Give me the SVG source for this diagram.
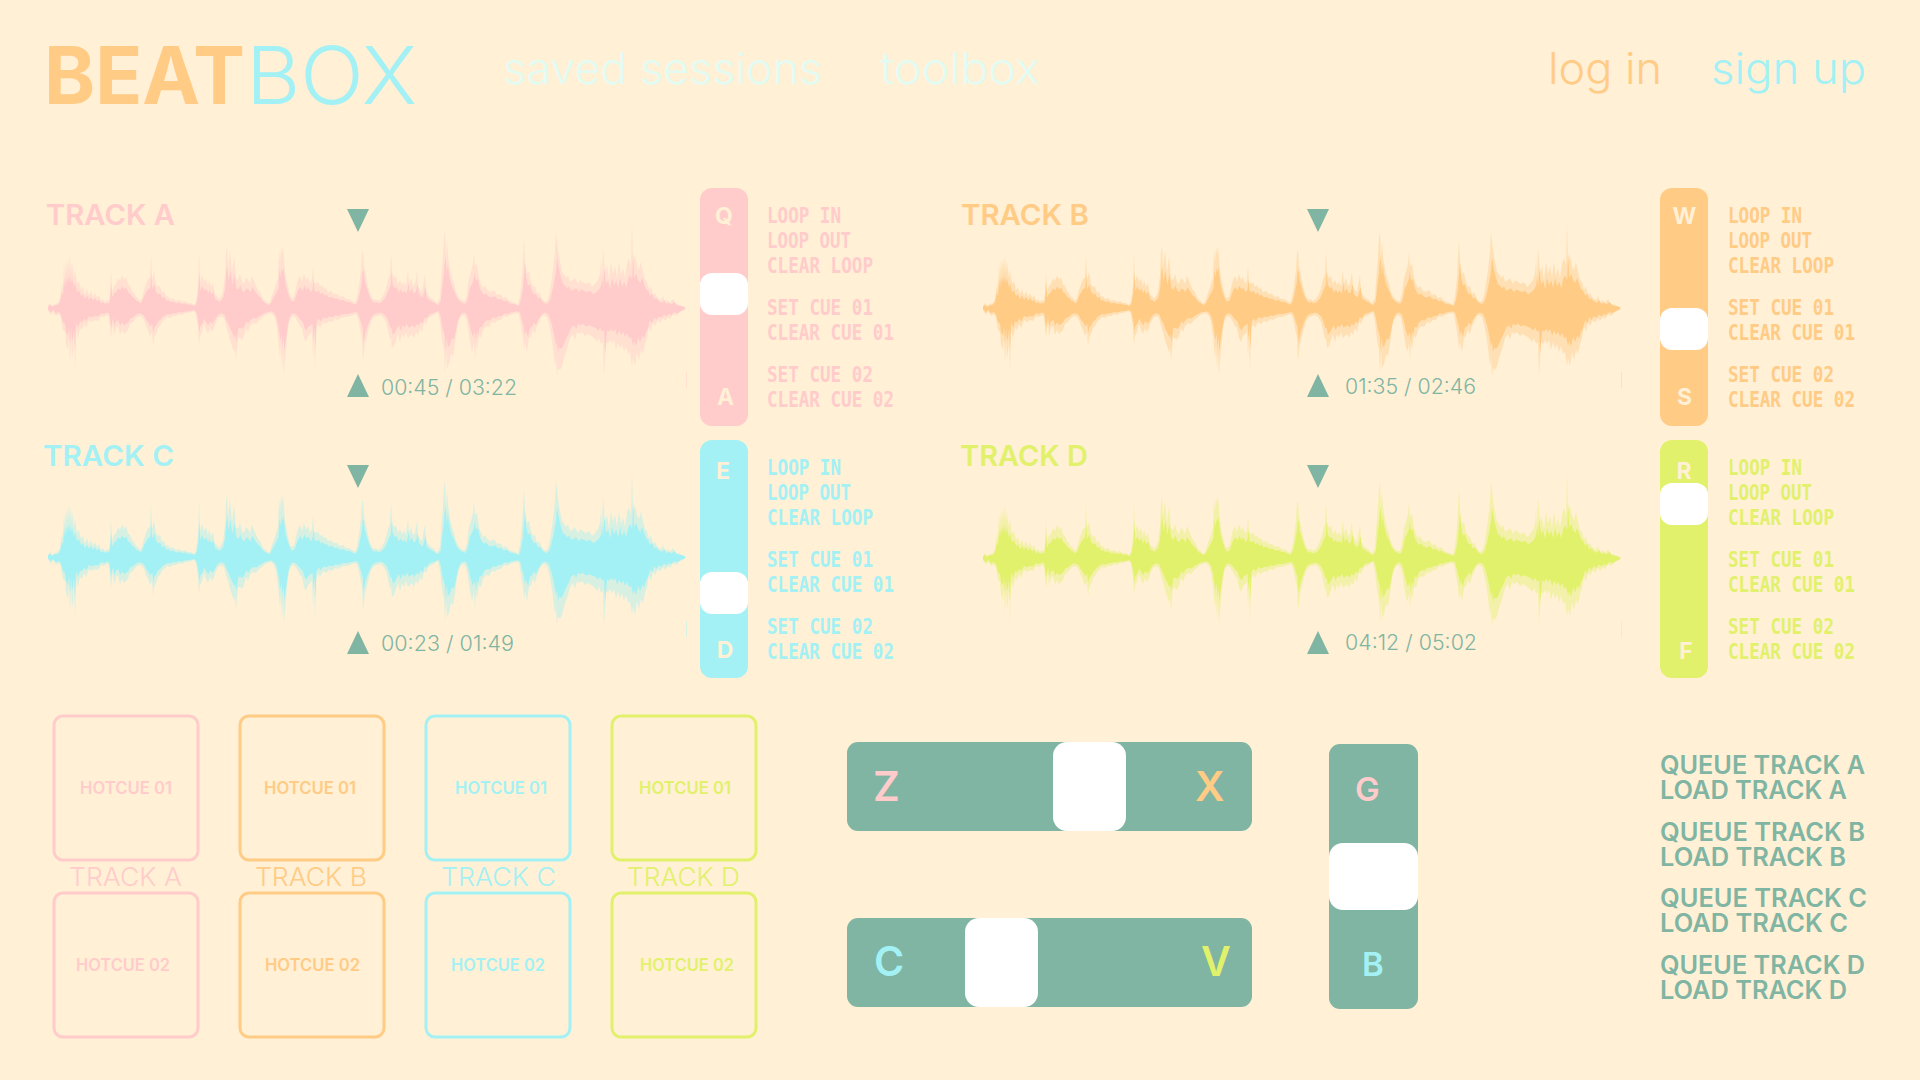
<svg xmlns="http://www.w3.org/2000/svg" xmlns:xlink="http://www.w3.org/1999/xlink" width="1920" height="1080" viewBox="0 0 1920 1080">
<style>
text{font-family:"Inter","Liberation Sans",sans-serif}
.pink{fill:#FFCBCB}.orange{fill:#FFCB85}.cyan{fill:#A3F1F4}.lime{fill:#E2F16B}.green{fill:#7FB5A2}.bgc{fill:#FFF0D6}.white{fill:#fff}
.spink{stroke:#FFCBCB}.sorange{stroke:#FFCB85}.scyan{stroke:#A3F1F4}.slime{stroke:#E2F16B}
.pale{fill:#E2FCF3}
.logo{font-size:80px}
.nav{font-size:44px;font-weight:300}
.title{font-size:29px;font-weight:600}
.time{font-size:21px;font-weight:300;fill:#7FB5A2}
.mono{font-family:"DejaVu Sans Mono","Liberation Mono",monospace;font-size:21px;font-weight:700}
.key{font-size:23px;font-weight:700;text-anchor:middle;fill:#FFF0D6}
.pad{fill:none;stroke-width:3}
.hot{font-size:17px;font-weight:600}
.lab{font-size:26px;font-weight:300}
.big{font-size:41px;font-weight:600}
.mid{font-size:33px;font-weight:600}
.q{font-size:25px;font-weight:600;fill:#7FB5A2}
</style>
<defs>
<path id="wavep" d="M0 0L0 -2 2 -5 4 -2 7 -4 10 -5 12 -9 14 -24 15 -18 16 -44 17 -30 18 -48 19 -36 20 -50 21 -38 22 -52 23 -36 24 -46 26 -30 27 -38 29 -24 31 -27 33 -18 35 -21 37 -13 39 -19 41 -12 43 -17 45 -11 47 -15 49 -10 51 -13 53 -7 55 -9 57 -6 59 -8 61 -7 62 -14 63 -37 64 -16 66 -22 68 -24 70 -30 72 -27 74 -33 76 -28 78 -31 80 -24 82 -22 84 -17 86 -15 88 -11 90 -10 92 -7 94 -10 96 -18 98 -24 100 -29 102 -30 103 -53 104 -28 106 -36 108 -24 110 -21 112 -22 114 -15 116 -17 118 -11 120 -12 122 -9 125 -10 128 -7 131 -8 134 -6 137 -7 140 -5 143 -5 146 -3 148 -6 150 -22 151 -54 152 -26 154 -33 156 -26 158 -30 160 -22 161 -28 163 -21 165 -25 167 -13 169 -12 171 -9 173 -12 175 -16 177 -32 178 -55 179 -62 180 -40 182 -57 184 -35 186 -52 188 -30 190 -28 192 -34 194 -26 196 -24 198 -30 200 -28 202 -24 204 -32 206 -27 208 -22 210 -18 212 -16 214 -11 216 -8 218 -7 220 -4 222 -6 224 -12 226 -18 228 -24 230 -30 231 -58 232 -46 233 -60 234 -54 235 -62 237 -36 239 -25 241 -16 243 -10 246 -11 248 -20 250 -28 252 -32 254 -26 256 -34 258 -28 260 -31 262 -24 264 -28 265 -42 266 -26 268 -24 270 -26 272 -21 274 -23 276 -19 278 -20 280 -16 283 -17 286 -14 289 -14 292 -11 295 -12 298 -9 301 -9 304 -7 307 -5 309 -10 311 -22 313 -38 314 -55 315 -57 316 -42 318 -32 320 -22 322 -14 324 -10 326 -8 328 -9 330 -7 333 -9 336 -14 338 -20 340 -28 342 -34 343 -55 344 -36 346 -30 348 -32 350 -24 352 -28 354 -23 356 -26 358 -22 360 -38 361 -24 363 -30 365 -22 367 -24 369 -36 370 -22 372 -18 374 -16 377 -33 378 -16 380 -13 383 -10 386 -8 389 -4 392 -10 393 -26 395 -52 396 -70 397 -76 398 -50 399 -66 400 -52 402 -38 404 -30 406 -24 408 -16 410 -12 412 -9 415 -7 417 -7 419 -14 421 -30 423 -36 425 -44 426 -55 427 -42 429 -44 431 -30 433 -24 435 -20 437 -22 440 -17 443 -16 446 -18 449 -13 452 -14 455 -10 458 -11 461 -7 464 -6 467 -5 470 -3 472 -12 474 -30 475 -50 476 -68 477 -48 479 -34 481 -36 483 -26 485 -21 487 -22 489 -14 491 -16 494 -9 497 -6 499 -7 501 -12 503 -24 505 -38 507 -56 508 -76 510 -58 512 -46 514 -36 516 -34 518 -30 520 -33 522 -26 525 -28 527 -30 530 -24 532 -28 535 -26 538 -24 541 -26 544 -21 547 -24 550 -28 552 -34 553 -48 554 -30 555 -60 557 -36 559 -42 561 -28 563 -46 565 -34 567 -42 569 -30 571 -46 573 -32 575 -40 577 -30 579 -44 581 -50 583 -42 584 -84 585 -46 587 -52 589 -42 591 -38 593 -46 595 -36 597 -28 599 -26 601 -18 603 -22 605 -13 607 -15 609 -11 611 -9 613 -8 615 -12 617 -6 620 -8 622 -5 625 -9 628 -4 632 -3 636 -1 636 2 632 4 628 8 625 6 622 11 620 9 617 13 615 10 612 15 610 12 607 18 605 14 603 24 601 18 599 30 597 36 595 46 593 42 591 52 589 44 587 58 585 50 584 58 582 44 580 46 578 38 576 44 574 36 572 41 570 34 568 42 566 32 564 36 562 32 560 36 558 34 556 68 555 34 553 36 551 30 549 34 546 30 543 28 540 26 537 28 534 24 531 26 529 24 527 32 525 26 522 30 520 38 518 44 516 50 514 58 512 62 510 60 509 68 508 50 507 58 505 40 503 26 501 16 499 9 496 7 493 9 491 14 489 18 487 26 485 22 483 28 481 30 479 44 477 34 476 42 475 30 473 18 471 6 468 5 465 6 462 7 459 9 456 8 453 12 450 12 447 15 444 14 441 19 438 18 435 22 433 30 431 28 429 42 428 34 427 52 426 36 424 44 422 34 420 20 418 10 416 7 413 8 411 12 409 20 407 36 405 48 403 46 401 56 399 60 398 42 397 65 396 42 394 32 392 14 390 4 387 6 384 8 381 9 378 16 376 14 374 24 372 20 370 27 368 24 366 30 364 26 362 28 360 30 358 24 356 30 354 26 352 34 350 26 348 32 346 38 344 40 343 30 342 32 340 22 338 14 335 9 332 7 329 8 326 9 323 13 321 20 319 28 317 36 316 44 315 53 314 30 312 20 310 10 308 6 305 7 302 8 299 9 296 9 293 10 290 12 287 11 284 14 281 13 278 16 275 14 272 20 270 16 268 22 267 63 266 30 265 48 264 24 262 26 260 28 258 34 256 30 254 20 252 18 250 14 247 9 244 8 241 14 239 30 237 52 236 66 235 44 234 60 233 38 232 50 230 28 228 14 226 8 223 5 220 6 217 7 214 10 211 12 208 16 205 15 202 18 200 24 198 20 196 28 194 32 192 30 190 30 188 52 187 40 186 44 184 38 182 32 180 24 178 18 176 10 173 8 170 10 168 14 166 20 164 24 162 20 160 26 158 22 156 16 154 24 152 28 151 36 150 20 148 6 146 3 143 4 140 5 137 5 134 7 131 6 128 8 125 8 122 10 119 9 116 12 114 14 112 18 110 20 108 26 106 30 105 38 104 24 102 28 100 22 98 18 96 12 94 9 91 8 88 10 85 14 82 16 80 22 78 24 76 26 74 22 72 27 70 18 68 20 66 28 65 14 63 30 61 8 59 7 56 9 53 8 50 13 47 12 44 14 41 12 38 20 36 16 34 22 32 20 30 30 28 22 27 62 26 30 25 44 24 50 23 30 22 54 21 28 20 42 18 36 17 24 15 22 13 10 11 6 8 8 5 3 3 7 0 2Z"/>
<g id="wave">
<use href="#wavep" xlink:href="#wavep" opacity=".42"/>
<use href="#wavep" xlink:href="#wavep" transform="scale(1.002 .66)"/>
<path d="M638.2 64h.7v16h-.7Z" opacity=".6"/>
</g>
<path id="tdown" d="M0 0H22L11 23Z"/>
<path id="tup" d="M11 0L22 23H0Z"/>
<g id="cues">
<text x="0" y="0" textLength="74" lengthAdjust="spacingAndGlyphs" class="mono">LOOP IN</text>
<text x="0" y="25" textLength="84" lengthAdjust="spacingAndGlyphs" class="mono">LOOP OUT</text>
<text x="0" y="50" textLength="106" lengthAdjust="spacingAndGlyphs" class="mono">CLEAR LOOP</text>
<text x="0" y="92" textLength="106" lengthAdjust="spacingAndGlyphs" class="mono">SET CUE 01</text>
<text x="0" y="117" textLength="127" lengthAdjust="spacingAndGlyphs" class="mono">CLEAR CUE 01</text>
<text x="0" y="159" textLength="106" lengthAdjust="spacingAndGlyphs" class="mono">SET CUE 02</text>
<text x="0" y="184" textLength="127" lengthAdjust="spacingAndGlyphs" class="mono">CLEAR CUE 02</text>
</g>
</defs>
<rect width="1920" height="1080" class="bgc"/>
<g id="header">
<text x="44" y="104" class="logo orange" font-weight="700" textLength="201" lengthAdjust="spacingAndGlyphs">BEAT</text>
<text x="246" y="104" class="logo cyan" font-weight="300" textLength="171" lengthAdjust="spacingAndGlyphs">BOX</text>
<text x="503" y="84" class="nav pale" textLength="319" lengthAdjust="spacingAndGlyphs">saved sessions</text>
<text x="880" y="84" class="nav pale" textLength="160" lengthAdjust="spacingAndGlyphs">toolbox</text>
<text x="1548" y="84" class="nav orange" textLength="114" lengthAdjust="spacingAndGlyphs">log in</text>
<text x="1711" y="84" class="nav cyan" textLength="155" lengthAdjust="spacingAndGlyphs">sign up</text>
</g>
<g id="track-a">
<text x="46" y="225" class="title pink" textLength="129" lengthAdjust="spacingAndGlyphs">TRACK A</text>
<use xlink:href="#tdown" href="#tdown" x="347" y="209" class="green"/>
<use href="#wave" xlink:href="#wave" x="48" y="308" class="pink"/>
<use href="#tup" xlink:href="#tup" x="347" y="374" class="green"/>
<text x="381" y="395" class="time" textLength="136" lengthAdjust="spacingAndGlyphs">00:45 / 03:22</text>
<rect x="700" y="188" width="48" height="238" rx="12" class="pink"/>
<rect x="700" y="273" width="48" height="42" rx="12" class="white"/>
<text x="724" y="224" class="key">Q</text><text x="725.5" y="405" class="key">A</text>
<use href="#cues" xlink:href="#cues" x="767" y="223" class="pink"/>
</g>
<g id="track-b">
<text x="961" y="225" class="title orange" textLength="128" lengthAdjust="spacingAndGlyphs">TRACK B</text>
<use href="#tdown" xlink:href="#tdown" x="1307" y="209" class="green"/>
<use href="#wave" xlink:href="#wave" x="983" y="308" class="orange"/>
<use href="#tup" xlink:href="#tup" x="1307" y="374" class="green"/>
<text x="1345" y="394" class="time" textLength="131" lengthAdjust="spacingAndGlyphs">01:35 / 02:46</text>
<rect x="1660" y="188" width="48" height="238" rx="12" class="orange"/>
<rect x="1660" y="308" width="48" height="42" rx="12" class="white"/>
<text x="1684.5" y="224" class="key">W</text><text x="1684.5" y="405" class="key">S</text>
<use href="#cues" xlink:href="#cues" x="1728" y="223" class="orange"/>
</g>
<g id="track-c">
<text x="43" y="466" class="title cyan" textLength="131" lengthAdjust="spacingAndGlyphs">TRACK C</text>
<use href="#tdown" xlink:href="#tdown" x="347" y="465" class="green"/>
<use href="#wave" xlink:href="#wave" x="48" y="557" class="cyan"/>
<use href="#tup" xlink:href="#tup" x="347" y="631" class="green"/>
<text x="381" y="651" class="time" textLength="133" lengthAdjust="spacingAndGlyphs">00:23 / 01:49</text>
<rect x="700" y="440" width="48" height="238" rx="12" class="cyan"/>
<rect x="700" y="572" width="48" height="42" rx="12" class="white"/>
<text x="723" y="479" class="key">E</text><text x="725" y="658" class="key">D</text>
<use href="#cues" xlink:href="#cues" x="767" y="475" class="cyan"/>
</g>
<g id="track-d">
<text x="960" y="466" class="title lime" textLength="128" lengthAdjust="spacingAndGlyphs">TRACK D</text>
<use href="#tdown" xlink:href="#tdown" x="1307" y="465" class="green"/>
<use href="#wave" xlink:href="#wave" x="983" y="558" class="lime"/>
<use href="#tup" xlink:href="#tup" x="1307" y="631" class="green"/>
<text x="1345" y="650" class="time" textLength="132" lengthAdjust="spacingAndGlyphs">04:12 / 05:02</text>
<rect x="1660" y="440" width="48" height="238" rx="12" class="lime"/>
<rect x="1660" y="483" width="48" height="42" rx="12" class="white"/>
<text x="1684" y="479" class="key">R</text><text x="1686" y="659" class="key">F</text>
<use href="#cues" xlink:href="#cues" x="1728" y="475" class="lime"/>
</g>
<g id="pads-a">
<rect x="54" y="716" width="144" height="144" rx="9" class="pad spink"/>
<rect x="54" y="893" width="144" height="144" rx="9" class="pad spink"/>
<text x="80" y="794" class="hot pink" textLength="92" lengthAdjust="spacingAndGlyphs">HOTCUE 01</text>
<text x="69" y="886" class="lab pink" textLength="113" lengthAdjust="spacingAndGlyphs">TRACK A</text>
<text x="76" y="971" class="hot pink" textLength="94" lengthAdjust="spacingAndGlyphs">HOTCUE 02</text>
</g>
<g id="pads-b">
<rect x="240" y="716" width="144" height="144" rx="9" class="pad sorange"/>
<rect x="240" y="893" width="144" height="144" rx="9" class="pad sorange"/>
<text x="264" y="794" class="hot orange" textLength="92" lengthAdjust="spacingAndGlyphs">HOTCUE 01</text>
<text x="255" y="886" class="lab orange" textLength="112" lengthAdjust="spacingAndGlyphs">TRACK B</text>
<text x="265" y="971" class="hot orange" textLength="95" lengthAdjust="spacingAndGlyphs">HOTCUE 02</text>
</g>
<g id="pads-c">
<rect x="426" y="716" width="144" height="144" rx="9" class="pad scyan"/>
<rect x="426" y="893" width="144" height="144" rx="9" class="pad scyan"/>
<text x="455" y="794" class="hot cyan" textLength="92" lengthAdjust="spacingAndGlyphs">HOTCUE 01</text>
<text x="441" y="886" class="lab cyan" textLength="115" lengthAdjust="spacingAndGlyphs">TRACK C</text>
<text x="451" y="971" class="hot cyan" textLength="94" lengthAdjust="spacingAndGlyphs">HOTCUE 02</text>
</g>
<g id="pads-d">
<rect x="612" y="716" width="144" height="144" rx="9" class="pad slime"/>
<rect x="612" y="893" width="144" height="144" rx="9" class="pad slime"/>
<text x="639" y="794" class="hot lime" textLength="92" lengthAdjust="spacingAndGlyphs">HOTCUE 01</text>
<text x="627" y="886" class="lab lime" textLength="113" lengthAdjust="spacingAndGlyphs">TRACK D</text>
<text x="640" y="971" class="hot lime" textLength="94" lengthAdjust="spacingAndGlyphs">HOTCUE 02</text>
</g>
<g id="fader-zx">
<rect x="847" y="742" width="405" height="89" rx="11" class="green"/>
<rect x="1053" y="742" width="73" height="89" rx="14" class="white"/>
<text x="873" y="801" class="big pink">Z</text><text x="1195" y="801" class="big orange">X</text>
</g>
<g id="fader-cv">
<rect x="847" y="918" width="405" height="89" rx="11" class="green"/>
<rect x="965" y="918" width="73" height="89" rx="14" class="white"/>
<text x="874" y="976" class="big cyan">C</text><text x="1201" y="976" class="big lime">V</text>
</g>
<g id="fader-gb">
<rect x="1329" y="744" width="89" height="265" rx="11" class="green"/>
<rect x="1329" y="843" width="89" height="67" rx="14" class="white"/>
<text x="1355" y="801" class="mid pink">G</text><text x="1362" y="976" class="mid cyan">B</text>
</g>
<g id="queue">
<text x="1660" y="774" class="q" textLength="205" lengthAdjust="spacingAndGlyphs">QUEUE TRACK A</text>
<text x="1660" y="799" class="q" textLength="187" lengthAdjust="spacingAndGlyphs">LOAD TRACK A</text>
<text x="1660" y="841" class="q" textLength="205" lengthAdjust="spacingAndGlyphs">QUEUE TRACK B</text>
<text x="1660" y="866" class="q" textLength="186" lengthAdjust="spacingAndGlyphs">LOAD TRACK B</text>
<text x="1660" y="907" class="q" textLength="207" lengthAdjust="spacingAndGlyphs">QUEUE TRACK C</text>
<text x="1660" y="932" class="q" textLength="188" lengthAdjust="spacingAndGlyphs">LOAD TRACK C</text>
<text x="1660" y="974" class="q" textLength="205" lengthAdjust="spacingAndGlyphs">QUEUE TRACK D</text>
<text x="1660" y="999" class="q" textLength="187" lengthAdjust="spacingAndGlyphs">LOAD TRACK D</text>
</g>
</svg>
